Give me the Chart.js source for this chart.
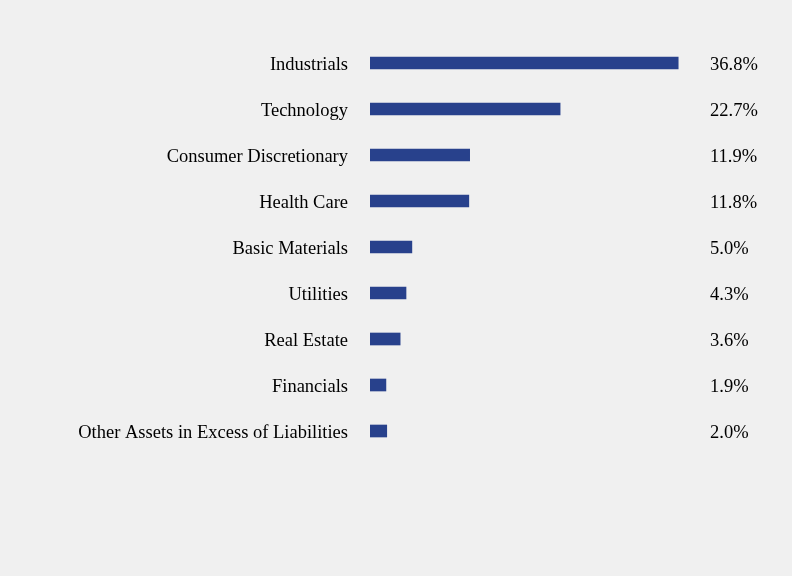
<!DOCTYPE html>
<html>
<head>
<meta charset="utf-8">
<script src="https://cdn.jsdelivr.net/npm/chart.js@4.4.1/dist/chart.umd.min.js"></script>
<style>
  html, body { margin: 0; padding: 0; background: #f0f0f0; }
  #wrap { width: 792px; height: 576px; }
</style>
</head>
<body>
<div id="wrap"><canvas id="c" width="792" height="576"></canvas></div>
<script>
const categories = ["Industrials", "Technology", "Consumer Discretionary", "Health Care", "Basic Materials", "Utilities", "Real Estate", "Financials", "Other Assets in Excess of Liabilities"];
const values = [36.8, 22.7, 11.9, 11.8, 5.0, 4.3, 3.6, 1.9, 2.0];
const valueLabels = ["36.8%", "22.7%", "11.9%", "11.8%", "5.0%", "4.3%", "3.6%", "1.9%", "2.0%"];

const FONT = "'Liberation Serif', 'Times New Roman', serif";

const textPlugin = {
  id: 'textLabels',
  afterDatasetsDraw(chart) {
    const ctx = chart.ctx;
    const meta = chart.getDatasetMeta(0);
    ctx.save();
    ctx.font = "18.5px " + FONT;
    ctx.fillStyle = "#000";
    ctx.textBaseline = "middle";
    meta.data.forEach((bar, i) => {
      ctx.textAlign = "right";
      ctx.fillText(categories[i], chart.chartArea.left - 22, bar.y + 2);
      ctx.textAlign = "left";
      ctx.fillText(valueLabels[i], chart.chartArea.right + 5, bar.y + 2);
    });
    ctx.restore();
  }
};

new Chart(document.getElementById('c'), {
  type: 'bar',
  data: {
    labels: categories,
    datasets: [{
      data: values,
      backgroundColor: '#28418c',
      borderWidth: 0,
      barThickness: 12
    }]
  },
  options: {
    indexAxis: 'y',
    responsive: false,
    animation: false,
    devicePixelRatio: 1,
    layout: { padding: { left: 0, right: 87, top: 40, bottom: 122 } },
    plugins: { legend: { display: false }, tooltip: { enabled: false } },
    scales: {
      x: { display: false, min: 0, max: 40 },
      y: {
        grid: { display: false },
        border: { display: false },
        ticks: { display: false },
        afterFit(scale) { scale.width = 370; }
      }
    }
  },
  plugins: [textPlugin]
});
</script>
</body>
</html>
